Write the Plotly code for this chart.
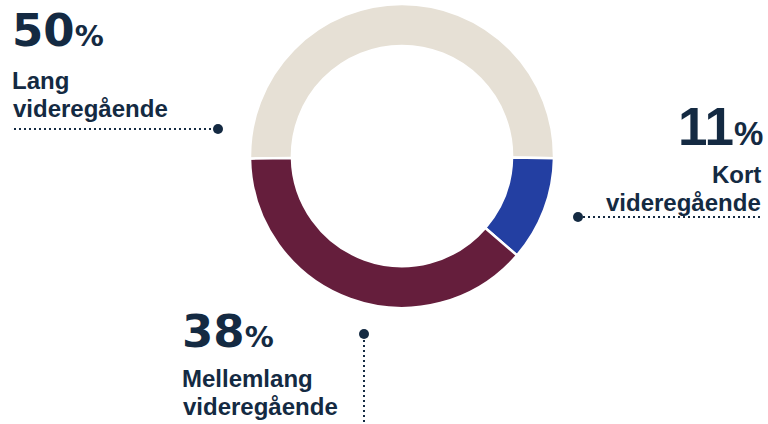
import plotly.graph_objects as go

# ---- data ----
categories = ["Lang videregående", "Kort videregående", "Mellemlang videregående"]
shares = [50, 11, 38]
label_lines = [["Lang", "videregående"], ["Kort", "videregående"], ["Mellemlang", "videregående"]]
colors = ["#E6E0D5", "#233FA2", "#651E3C"]

# ---- callout layout (pixel coords, y downward) ----
num_pos = [(12, 30.5, "left"), (763, 126, "right"), (182, 331, "left")]
num_font = [("DejaVu Sans", 45, 29), ("Liberation Sans, Arial", 53, 33), ("DejaVu Sans", 45, 29)]
lab_pos = [[(12, 80.5, "left"), (13, 108.8, "left")],
           [(761, 174.5, "right"), (761, 202.5, "right")],
           [(182, 378, "left"), (183, 406, "left")]]
leaders = [((14, 129), (213, 129)), ((583, 217), (760, 217)), ((364, 340), (364, 424))]
dots_x = [218, 578, 364]
dots_y = [129, 217, 334]

TXT = "#142A42"
W, H = 768, 424

fig = go.Figure()

cx, cy, R = 402, 156, 152
fig.add_trace(go.Pie(
    labels=categories, values=shares, sort=False, direction="clockwise",
    rotation=269, hole=0.724, textinfo="none", hoverinfo="label+percent",
    marker=dict(colors=colors, line=dict(color="white", width=2.5)),
    domain=dict(x=[(cx - R) / W, (cx + R) / W], y=[1 - (cy + R) / H, 1 - (cy - R) / H]),
    showlegend=False,
))

fig.add_trace(go.Scatter(
    x=dots_x, y=dots_y, mode="markers",
    marker=dict(size=10, color=TXT), hoverinfo="skip", showlegend=False,
))

annotations = []
for i, v in enumerate(shares):
    x, y, anc = num_pos[i]
    fam, big, small = num_font[i]
    annotations.append(dict(
        x=x, y=y, xref="x", yref="y", xanchor=anc, yanchor="middle",
        text=f"{v}<span style='font-size:{small}px'>%</span>", showarrow=False,
        font=dict(family=fam, size=big, color=TXT, weight="bold"),
        borderpad=0, borderwidth=0,
    ))
    for (lx, ly, la), line in zip(lab_pos[i], label_lines[i]):
        annotations.append(dict(
            x=lx, y=ly, xref="x", yref="y", xanchor=la, yanchor="middle",
            text=line, showarrow=False,
            font=dict(family="Liberation Sans, Arial, sans-serif", size=24, color=TXT, weight="bold"),
            borderpad=0, borderwidth=0,
        ))

shapes = []
for (p0, p1) in leaders:
    shapes.append(dict(type="line", xref="x", yref="y", x0=p0[0], y0=p0[1], x1=p1[0], y1=p1[1],
                       line=dict(color=TXT, width=2, dash="2px,3px")))

fig.update_layout(
    width=W, height=H, margin=dict(l=0, r=0, t=0, b=0),
    paper_bgcolor="white", plot_bgcolor="white",
    xaxis=dict(range=[0, W], visible=False, domain=[0, 1], fixedrange=True),
    yaxis=dict(range=[H, 0], visible=False, domain=[0, 1], fixedrange=True),
    annotations=annotations, shapes=shapes, showlegend=False,
)

fig.write_html(
    "out.html",
    config={"displayModeBar": False},
    post_script="document.body.style.margin='0';document.body.style.overflow='hidden';",
)
